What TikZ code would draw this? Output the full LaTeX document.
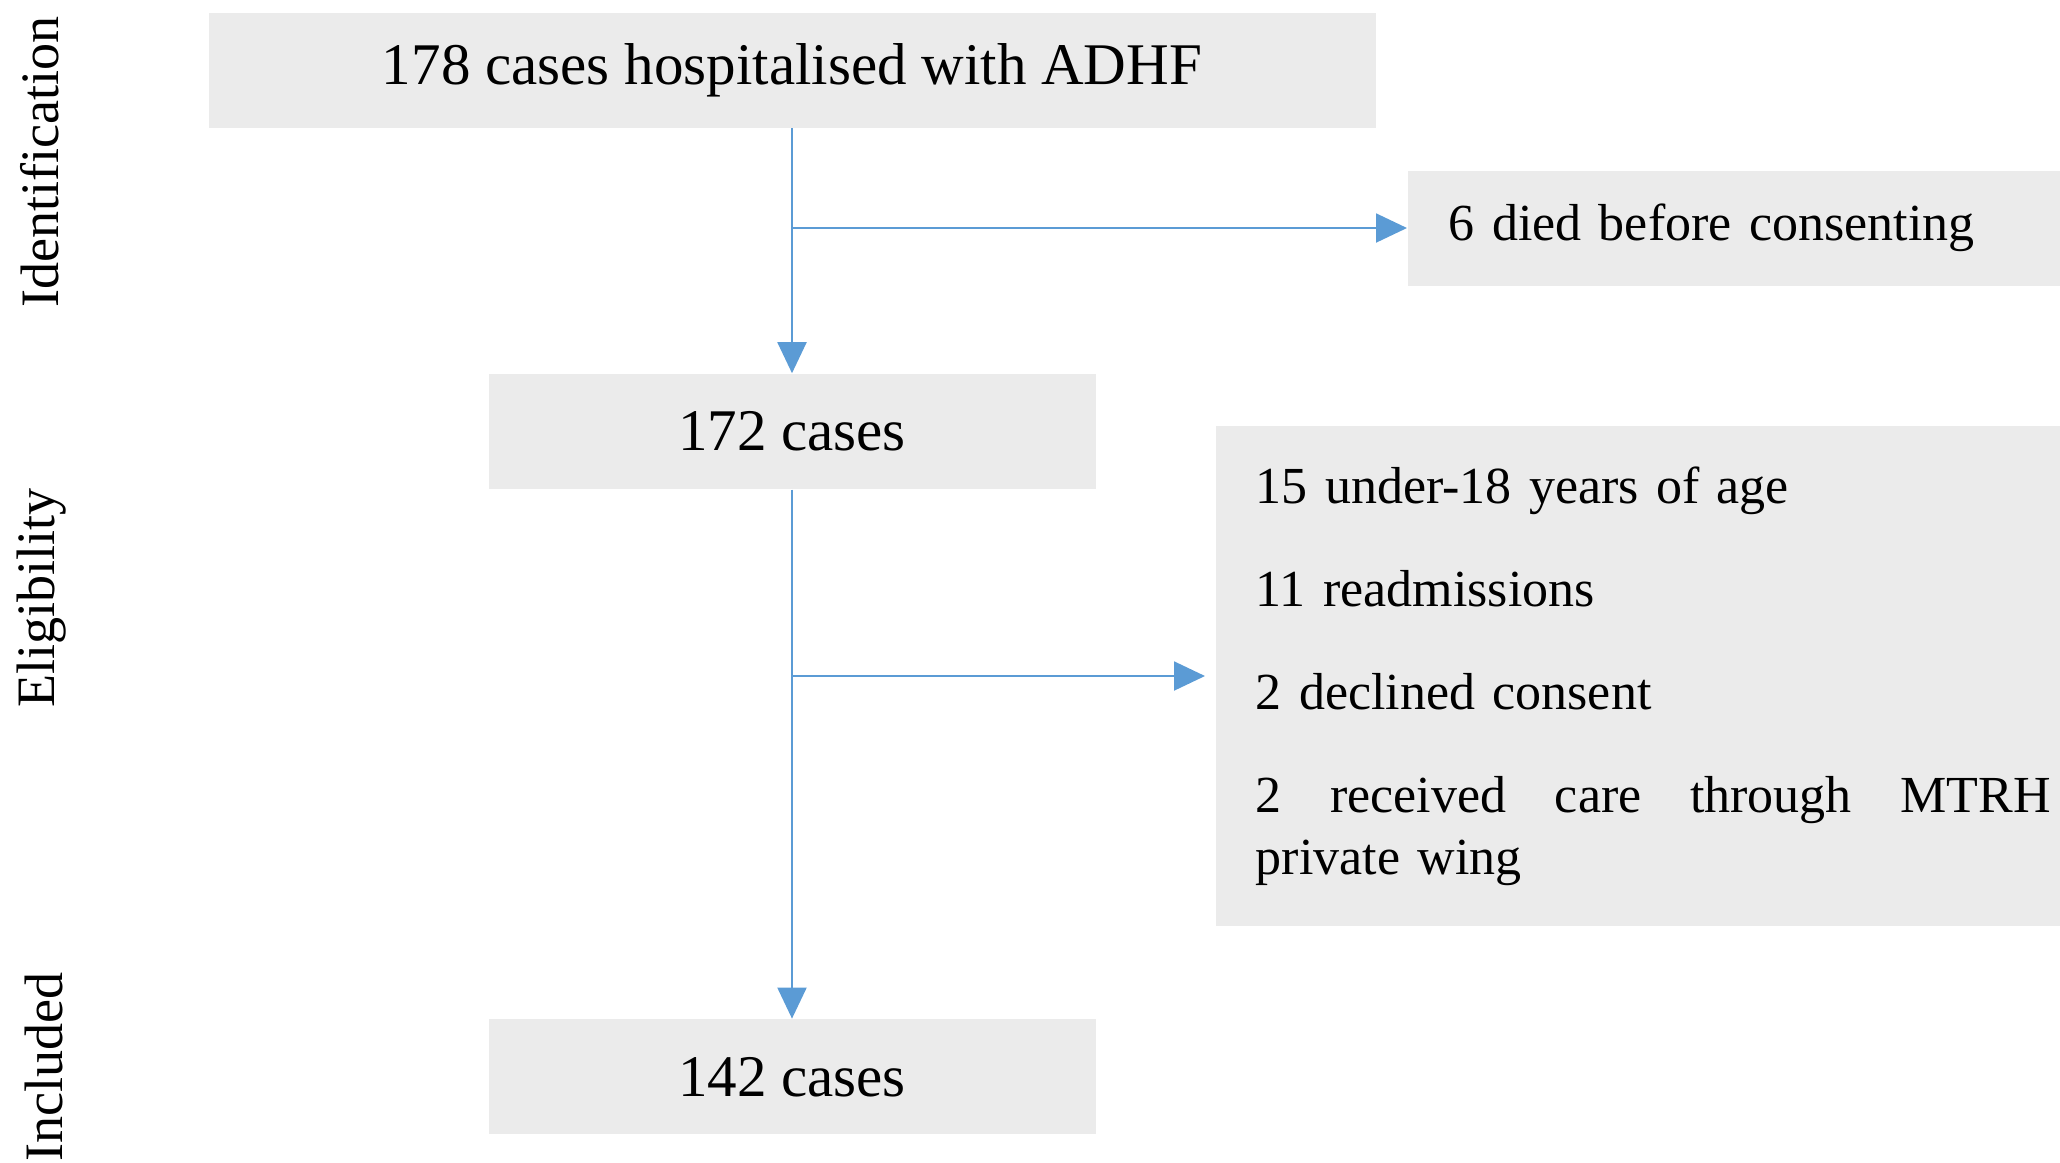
\documentclass[tikz,border=0pt]{standalone}
\usepackage{fontspec}
\setmainfont{Liberation Serif}
\usetikzlibrary{arrows.meta, positioning}
\usepackage{xcolor}
\definecolor{boxgray}{RGB}{235,235,235}
\definecolor{flowblue}{RGB}{91,155,213}

\begin{document}
\begin{tikzpicture}[
x=1cm, y=1cm,
node distance=1cm,
mainbox/.style={fill=boxgray,
rectangle,
minimum width=6.07cm,
minimum height=1.15cm,
inner sep=0pt,
font=\fontsize{16.8pt}{20pt}\selectfont,
align=center},
sidebox/.style={fill=boxgray,
rectangle,
anchor=west,
inner xsep=0.41cm,
font=\fontsize{14.8pt}{17.4pt}\selectfont,
align=left},
phase/.style={rotate=90,
inner sep=0pt,
font=\fontsize{15.4pt}{18pt}\selectfont},
arrow/.style={-{Triangle[length=0.31cm, width=0.29cm]}, line width=0.57pt, draw=flowblue}
]
\useasboundingbox (0,0) rectangle (20.60,-11.62);

% phases on the left
\node[phase] (idlabel) at (0.40,-1.62) {Identification};
\node[phase] (eliglabel) at (0.42,-5.98) {Eligibility};
\node[phase] (incllabel) at (0.44,-10.67) {Included};

% main flow
\node[mainbox, minimum width=11.67cm] (hosp) at (7.92,-0.70) {178 cases hospitalised with ADHF};
\node[mainbox, below=2.45cm of hosp] (elig) {172 cases};
\node[mainbox, below=5.29cm of elig] (incl) {142 cases};

% exclusions
\node[sidebox, minimum width=6.53cm, minimum height=1.15cm, text width=5.71cm] (died) at (14.07,-2.28) {6 died before consenting};
\node[sidebox, minimum height=5.00cm, inner xsep=0.40cm, text width=7.95cm] (excl) at (12.15,-6.76) {15 under-18 years of age\\[0.42cm]
11 readmissions\\[0.42cm]
2 declined consent\\[0.42cm]
2\hfill received\hfill care\hfill through\hfill MTRH\\
private wing};

\draw[arrow] (hosp.south) -- (elig.north);
\draw[arrow] (elig.south) -- (incl.north);
\draw[arrow] (hosp.south |- died.west) -- (died.west);
\draw[arrow, shorten >=0.10cm] (elig.south |- excl.west) -- (excl.west);

\end{tikzpicture}
\end{document}
